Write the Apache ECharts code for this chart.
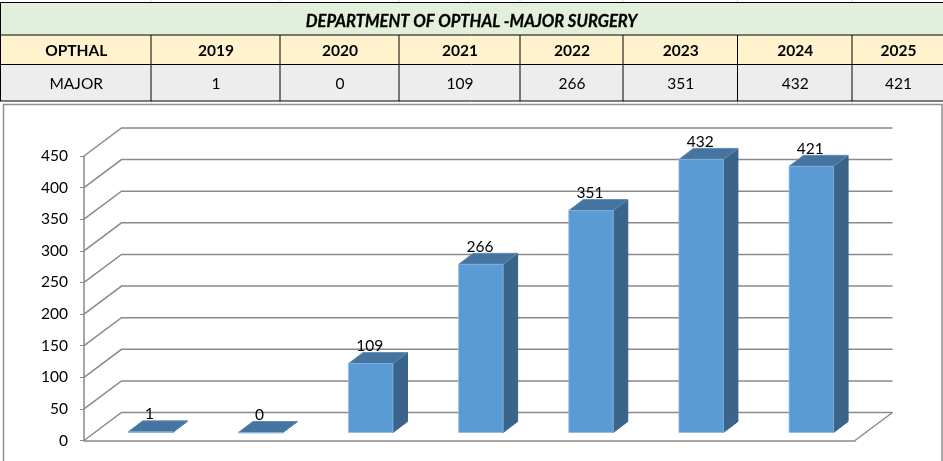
<!DOCTYPE html>
<html>
<head>
<meta charset="utf-8">
<style>html,body{margin:0;padding:0;background:#fff}#c{width:943px;height:461px}</style>
<script src="https://cdn.jsdelivr.net/npm/echarts@6/dist/echarts.min.js"></script>
</head>
<body>
<div id="c"></div>
<script>
// ---- data ----
const titleText = 'DEPARTMENT OF OPTHAL -MAJOR SURGERY';
const rowHeader = 'OPTHAL';
const rowName = 'MAJOR';
const categories = ['2019', '2020', '2021', '2022', '2023', '2024', '2025'];
const majorValues = [1, 0, 109, 266, 351, 432, 421];
const tickValues = [0, 50, 100, 150, 200, 250, 300, 350, 400, 450];

// ---- layout ----
const FONT = 'Lato, "Open Sans", sans-serif';
const colEdges = [0.5, 151, 280, 399, 520, 623, 737.5, 852, 944];
const rowEdges = [2.5, 35, 64.5, 101];
const GRID_COLOR = '#8a8a8a';
const wall = { dx: 37.5, dy: -28 };      // depth of the floor
const bar = { shift: 11.4, lift: -8, w: 44.5, dx: 14.5, dy: -11 };

const graphic = [];
// spreadsheet gridlines peeking out around the table
colEdges.slice(1, 8).forEach(x => {
  graphic.push({ type: 'line', silent: true, shape: { x1: x, y1: 0, x2: x, y2: 3 }, style: { stroke: '#d9d9d9', lineWidth: 1 } });
  graphic.push({ type: 'line', silent: true, shape: { x1: x, y1: 101, x2: x, y2: 104 }, style: { stroke: '#d9d9d9', lineWidth: 1 } });
});
// chart frame
graphic.push({ type: 'rect', silent: true, z: 0, shape: { x: 3.5, y: 104.5, width: 938.5, height: 380 }, style: { fill: '#fff', stroke: '#8f8f8f', lineWidth: 1.5 } });
// table fills
const W = colEdges[8] - colEdges[0];
[['#E2EFDA', 0], ['#FFF2CC', 1], ['#EDEDED', 2]].forEach(([fill, r]) => {
  graphic.push({ type: 'rect', silent: true, z: 1, shape: { x: colEdges[0], y: rowEdges[r], width: W, height: rowEdges[r + 1] - rowEdges[r] }, style: { fill } });
});
// table borders
rowEdges.forEach(y => graphic.push({ type: 'line', silent: true, z: 2, shape: { x1: 0, y1: y, x2: 943, y2: y }, style: { stroke: '#000', lineWidth: 1 } }));
graphic.push({ type: 'line', silent: true, z: 2, shape: { x1: colEdges[0], y1: rowEdges[0], x2: colEdges[0], y2: rowEdges[3] }, style: { stroke: '#000', lineWidth: 1 } });
colEdges.slice(1, 8).forEach(x => graphic.push({ type: 'line', silent: true, z: 2, shape: { x1: x, y1: rowEdges[1], x2: x, y2: rowEdges[3] }, style: { stroke: '#000', lineWidth: 1 } }));
// table text
const headerCells = [rowHeader].concat(categories);
const valueCells = [rowName].concat(majorValues.map(String));
headerCells.forEach((t, i) => {
  const cx = (colEdges[i] + colEdges[i + 1]) / 2 + 0.5;
  graphic.push({ type: 'text', silent: true, z: 3, style: { text: t, x: cx, y: 50.5, align: 'center', verticalAlign: 'middle', fill: '#000', font: 'bold 15.5px ' + FONT } });
  graphic.push({ type: 'text', silent: true, z: 3, style: { text: valueCells[i], x: cx, y: 83.5, align: 'center', verticalAlign: 'middle', fill: '#000', font: '15.5px ' + FONT } });
});

function poly(points, fill, stroke) {
  return { type: 'polygon', shape: { points }, style: { fill, stroke: stroke || fill, lineWidth: 1 } };
}

const option = {
  animation: false,
  backgroundColor: '#fff',
  title: {
    text: titleText, left: 466.5, top: 8, textAlign: 'center', z: 10,
    textStyle: { fontFamily: FONT, fontSize: 16.6, fontWeight: 'bold', fontStyle: 'italic', color: '#000', textBorderColor: '#000', textBorderWidth: 0.3 }
  },
  graphic,
  grid: { left: 84, top: 156, width: 771, height: 284.5 },
  xAxis: {
    type: 'category', data: categories, z: 5,
    axisLine: { show: true, lineStyle: { color: GRID_COLOR, width: 1.5 } },
    axisTick: { show: false }, axisLabel: { show: false }
  },
  yAxis: {
    type: 'value', min: 0, max: 450, interval: 50, z: 5,
    axisLine: { show: true, lineStyle: { color: GRID_COLOR, width: 1.5 } },
    axisTick: { show: true, length: 4, lineStyle: { color: GRID_COLOR, width: 1 } },
    axisLabel: { margin: 16, color: '#000', fontFamily: FONT, fontSize: 15.5 },
    splitLine: { show: false }
  },
  series: [
    {
      // walls: one diagonal plus one back line per tick
      type: 'custom', name: 'gridlines', z: 3, silent: true,
      data: tickValues,
      encode: { y: 0 },
      renderItem(params, api) {
        const v = api.value(0);
        const cs = params.coordSys;
        const y = api.coord([0, v])[1];
        const lineStyle = { stroke: GRID_COLOR, lineWidth: 1.5, fill: null };
        const children = [
          { type: 'polyline', shape: { points: [[cs.x, y], [cs.x + wall.dx, y + wall.dy], [cs.x + cs.width + wall.dx, y + wall.dy]] }, style: lineStyle }
        ];
        if (v === 0) {
          children.push({ type: 'line', shape: { x1: cs.x + cs.width, y1: y, x2: cs.x + cs.width + wall.dx, y2: y + wall.dy }, style: lineStyle });
        }
        return { type: 'group', children };
      }
    },
    {
      type: 'custom', name: 'MAJOR', z: 4,
      data: majorValues.map((v, i) => [i, v]),
      encode: { x: 0, y: 1 },
      renderItem(params, api) {
        const i = api.value(0), v = api.value(1);
        const top = api.coord([i, v]);
        const base = api.coord([i, 0]);
        const xl = top[0] + bar.shift - bar.w / 2, xr = xl + bar.w;
        const yb = base[1] + bar.lift, yt = top[1] + bar.lift;
        return {
          type: 'group',
          children: [
            poly([[xr, yb], [xr + bar.dx, yb + bar.dy], [xr + bar.dx, yt + bar.dy], [xr, yt]], '#3A6489'),
            poly([[xl, yt], [xl + bar.dx, yt + bar.dy], [xr + bar.dx, yt + bar.dy], [xr, yt]], '#4674A0', '#5F8CB4'),
            { type: 'rect', shape: { x: xl, y: yt, width: bar.w, height: Math.max(yb - yt, 0.5) }, style: { fill: '#5B9BD5', stroke: '#8DB8DF', lineWidth: 0.75 } },
            { type: 'text', z2: 20, style: { text: String(v), x: xl + bar.w / 2 - 1, y: yt - 17.5, align: 'center', verticalAlign: 'middle', fill: '#000', font: '15.5px ' + FONT } }
          ]
        };
      }
    }
  ]
};
const chart = echarts.init(document.getElementById('c'));
chart.setOption(option);
</script>
</body>
</html>
